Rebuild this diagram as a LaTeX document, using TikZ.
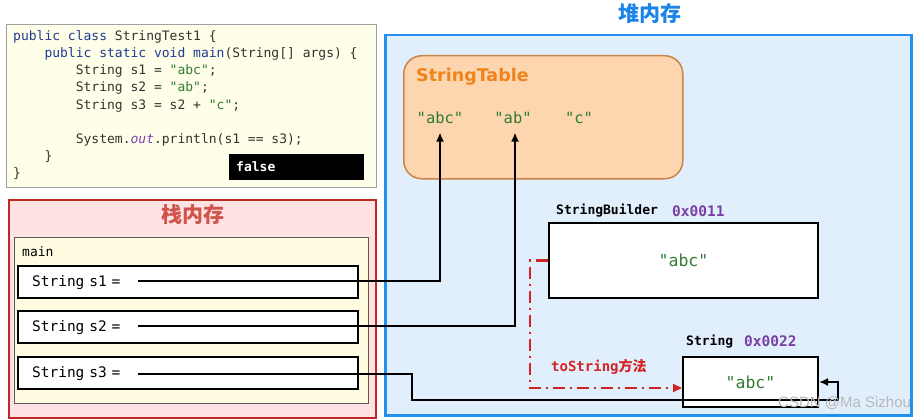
\documentclass[tikz,border=0pt]{standalone}
\usepackage{fontspec}
\setmainfont{DejaVu Sans}
\setmonofont{DejaVu Sans Mono}
\newfontfamily\cjk{Noto Sans CJK SC}
\newfontfamily\wmfont{Liberation Sans}
\usetikzlibrary{arrows.meta}

\definecolor{codebg}{HTML}{FFFEE8}
\definecolor{codeframe}{HTML}{A0A0A0}
\definecolor{codegray}{HTML}{333333}
\definecolor{kwblue}{HTML}{1F3A93}
\definecolor{outpurple}{HTML}{7E3FB3}
\definecolor{stackbg}{HTML}{FFE3E3}
\definecolor{stackred}{HTML}{BE2A22}
\definecolor{stacktitle}{HTML}{D0544C}
\definecolor{mainbg}{HTML}{FFFCE2}
\definecolor{heapbg}{HTML}{E1EFFC}
\definecolor{heapblue}{HTML}{2291EE}
\definecolor{heaptitle}{HTML}{1A84E8}
\definecolor{tablebg}{HTML}{FDD6AF}
\definecolor{tableframe}{HTML}{C98548}
\definecolor{tabletitle}{HTML}{F0841C}
\definecolor{strgreen}{HTML}{2E7D32}
\definecolor{addrpurple}{HTML}{7A3FA4}
\definecolor{tosred}{HTML}{D32222}

\newcommand{\jkw}[1]{\textcolor{kwblue}{#1}}
\newcommand{\jstr}[1]{\textcolor{strgreen}{#1}}

\begin{document}
\begin{tikzpicture}[x=1pt,y=-1pt,
  box/.style={draw,rectangle,anchor=north west,inner sep=0pt},
  slot/.style={box,fill=white,line width=2.2pt,minimum width=340pt,minimum height=32pt,
    text width=312pt,inner xsep=14pt,align=left,font=\fontsize{14.5}{16}\selectfont\ttfamily},
  obj/.style={box,fill=white,line width=2pt,text=strgreen,font=\fontsize{16.5}{18}\selectfont\ttfamily},
  lit/.style={text=strgreen,font=\fontsize{15.5}{17}\selectfont\ttfamily},
  cls/.style={anchor=west,inner sep=0pt,font=\fontsize{13}{15}\selectfont\ttfamily\bfseries},
  addr/.style={anchor=west,inner sep=0pt,text=addrpurple,font=\fontsize{14.5}{16}\selectfont\ttfamily\bfseries},
  title/.style={font=\cjk\bfseries\fontsize{21}{23}\selectfont},
  ref/.style={draw,line width=2.2pt,-{Latex[length=9pt,width=8pt]}},
  tostr/.style={draw=tosred,line width=2.2pt,dash pattern=on 12pt off 5pt on 2pt off 5pt,
    -{Triangle[length=9pt,width=8pt]}}]
\useasboundingbox (0,0) rectangle (916,420);

% source code
\node[box,fill=codebg,draw=codeframe,line width=1.2pt,minimum width=370pt,minimum height=163pt] (codebox) at (6,24) {};
\node[anchor=north west,inner sep=0pt,align=left,text=codegray,
  font=\fontsize{13}{17.1}\selectfont\ttfamily] (code) at (13,30.5) {%
\jkw{public} \jkw{class} StringTest1 \{\\
\phantom{0000}\jkw{public} \jkw{static} \jkw{void} \jkw{main}(String[] args) \{\\
\phantom{00000000}String s1 = \jstr{"abc"};\\
\phantom{00000000}String s2 = \jstr{"ab"};\\
\phantom{00000000}String s3 = s2 + \jstr{"c"};\\
\mbox{}\\
\phantom{00000000}System.\textcolor{outpurple}{\itshape out}.println(s1 == s3);\\
\phantom{0000}\}\\
\}};
\node[box,fill=black,text=white,font=\fontsize{13}{15}\selectfont\ttfamily\bfseries,
  minimum width=134pt,minimum height=25pt,text width=120pt,inner xsep=7pt,align=left] (result) at (229,154) {false};

% stack
\node[box,fill=stackbg,draw=stackred,line width=2pt,minimum width=367pt,minimum height=218pt] (stack) at (8,199) {};
\node[title,text=stacktitle] (stacklbl) at (193,215) {栈内存};
\node[box,fill=mainbg,draw=black!65,line width=1pt,minimum width=354pt,minimum height=166pt] (frame) at (14,237) {};
\node[anchor=west,inner sep=0pt,font=\fontsize{13}{15}\selectfont\ttfamily] (framelbl) at (22,252) {main};
\node[slot] (s1) at (17,265) {String s1 =};
\node[slot] (s2) at (17,310) {String s2 =};
\node[slot] (s3) at (17,356) {String s3 =};
\coordinate (s1p) at (138,281);
\coordinate (s2p) at (138,326);
\coordinate (s3p) at (138,374);

% heap
\node[title,text=heaptitle] (heaplbl) at (650,14) {堆内存};
\node[box,fill=heapbg,draw=heapblue,line width=2.5pt,minimum width=526pt,minimum height=380pt] (heap) at (384,34) {};
\node[box,fill=tablebg,draw=tableframe,line width=1.5pt,rounded corners=18pt,minimum width=279pt,minimum height=123pt] (table) at (403,55) {};
\node[anchor=west,inner sep=0pt,text=tabletitle,font=\fontsize{17.5}{20}\selectfont\bfseries] (tablelbl) at (416,77) {StringTable};
\node[lit] (sabc) at (440,118) {"abc"};
\node[lit] (sab) at (513,118) {"ab"};
\node[lit] (sc) at (579,118) {"c"};

\node[obj,minimum width=269pt,minimum height=75pt] (sb) at (548,222) {"abc"};
\node[cls] (sblbl) at (556,211) {StringBuilder};
\node[addr] (sbaddr) at (672,211) {0x0011};
\node[obj,minimum width=135pt,minimum height=50pt] (str) at (682,356) {"abc"};
\node[cls] (strlbl) at (686,342) {String};
\node[addr] (straddr) at (744,341) {0x0022};

% references
\draw[ref] (s1p) -| ([yshift=-5pt]sabc.south);
\draw[ref] (s2p) -| ([xshift=2pt,yshift=-5pt]sab.south);
\draw[ref] (s3p) -- ++(274,0) -- ++(0,26) -| ([xshift=19pt]str.east) -- (str.east);
\draw[tostr] (sb.west) -- ++(-18,0) |- ([yshift=-6pt]str.west);
\node[anchor=west,inner sep=0pt,text=tosred,font=\fontsize{14}{16}\selectfont\bfseries] (toslbl) at (551,367) {\ttfamily toString\cjk 方法};

\node[anchor=west,inner sep=0pt,text=gray!55,font=\wmfont\fontsize{15}{17}\selectfont] (mark) at (778,403) {CSDN @Ma Sizhou};
\end{tikzpicture}
\end{document}
